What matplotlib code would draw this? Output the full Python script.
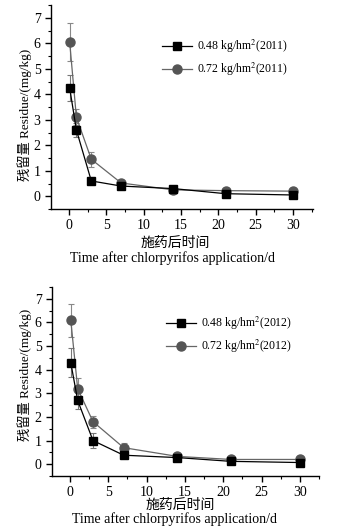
import matplotlib
matplotlib.use("Agg")
import matplotlib.pyplot as plt
from matplotlib.ticker import MultipleLocator

plt.rcParams['font.family'] = ['Liberation Serif', 'Noto Sans CJK SC']
plt.rcParams['mathtext.fontset'] = 'stix'

days = [0.1, 1, 3, 7, 14, 21, 30]

# 2011
low_2011 = [4.25, 2.6, 0.6, 0.4, 0.3, 0.1, 0.05]
low_2011_err = [0.52, 0.28, 0.06, 0.05, 0.04, 0.03, 0.02]
high_2011 = [6.05, 3.1, 1.45, 0.52, 0.25, 0.22, 0.2]
high_2011_err = [0.75, 0.32, 0.3, 0.1, 0.05, 0.04, 0.03]

# 2012
low_2012 = [4.3, 2.7, 1.0, 0.38, 0.28, 0.12, 0.07]
low_2012_err = [0.6, 0.35, 0.3, 0.06, 0.04, 0.03, 0.02]
high_2012 = [6.1, 3.2, 1.8, 0.7, 0.33, 0.2, 0.2]
high_2012_err = [0.7, 0.45, 0.25, 0.2, 0.05, 0.04, 0.03]

labels_2011 = ['0.48 kg/hm$^{2}$(2011)', '0.72 kg/hm$^{2}$(2011)']
labels_2012 = ['0.48 kg/hm$^{2}$(2012)', '0.72 kg/hm$^{2}$(2012)']

xticks = [0, 5, 10, 15, 20, 25, 30]
yticks = [0, 1, 2, 3, 4, 5, 6, 7]

W, H = 344, 527
fig = plt.figure(figsize=(W / 100, H / 100), dpi=100)


def make_axes(left, right, top, bottom):
    return fig.add_axes([left / W, 1 - bottom / H, (right - left) / W, (bottom - top) / H])


def draw(ax, low, low_err, high, high_err, labels, xlim, leg_anchor, ylab_pos):
    ax.errorbar(days, low, yerr=low_err, fmt='none', ecolor='#777777', elinewidth=0.8,
                capsize=2, capthick=0.8, zorder=1)
    ax.errorbar(days, high, yerr=high_err, fmt='none', ecolor='#888888', elinewidth=0.8,
                capsize=2, capthick=0.8, zorder=1)
    ax.plot(days, low, color='black', marker='s', markersize=5.5, linewidth=0.9,
            label=labels[0], zorder=3)
    ax.plot(days, high, color='#666666', marker='o', markersize=6.5,
            markerfacecolor='#555555', markeredgecolor='#555555', linewidth=0.9,
            label=labels[1], zorder=2)
    ax.set_xlim(*xlim)
    ax.set_ylim(-0.5, 7.5)
    ax.set_xticks(xticks)
    ax.set_yticks(yticks)
    ax.xaxis.set_minor_locator(MultipleLocator(2.5))
    ax.yaxis.set_minor_locator(MultipleLocator(0.5))
    for s in ['top', 'right']:
        ax.spines[s].set_visible(False)
    for s in ['left', 'bottom']:
        ax.spines[s].set_linewidth(1.0)
    ax.tick_params(which='major', direction='out', length=4, width=1.0, labelsize=10)
    ax.tick_params(which='minor', direction='out', length=2, width=0.8)
    ax.set_ylabel('残留量 Residue/(mg/kg)', fontsize=9.5, va='center')
    ax.yaxis.set_label_coords(*ylab_pos)
    ax.legend(loc='center left', bbox_to_anchor=leg_anchor, frameon=False,
              fontsize=8.5, handlelength=2.6, handletextpad=0.4, labelspacing=0.45,
              borderaxespad=0)
    return ax


ax1 = make_axes(51, 313, 5, 209)
draw(ax1, low_2011, low_2011_err, high_2011, high_2011_err, labels_2011, (-2.4, 32.7),
     ((157 - 51) / 262, 1 - (58 - 5) / 204), ((25 - 51) / 262, 1 - (115 - 5) / 204))
fig.text(175 / W, 1 - 243 / H, '施药后时间', ha='center', va='center', fontsize=10)
fig.text(172 / W, 1 - 258 / H, 'Time after chlorpyrifos application/d', ha='center',
         va='center', fontsize=10)

ax2 = make_axes(52, 319, 287, 476)
draw(ax2, low_2012, low_2012_err, high_2012, high_2012_err, labels_2012, (-2.35, 32.5),
     ((161 - 52) / 267, 1 - (335 - 287) / 189), ((25 - 52) / 267, 1 - (375 - 287) / 189))
fig.text(180 / W, 1 - 505 / H, '施药后时间', ha='center', va='center', fontsize=10)
fig.text(175 / W, 1 - 519 / H, 'Time after chlorpyrifos application/d', ha='center',
         va='center', fontsize=10)

fig.savefig('out.png', dpi=100)
